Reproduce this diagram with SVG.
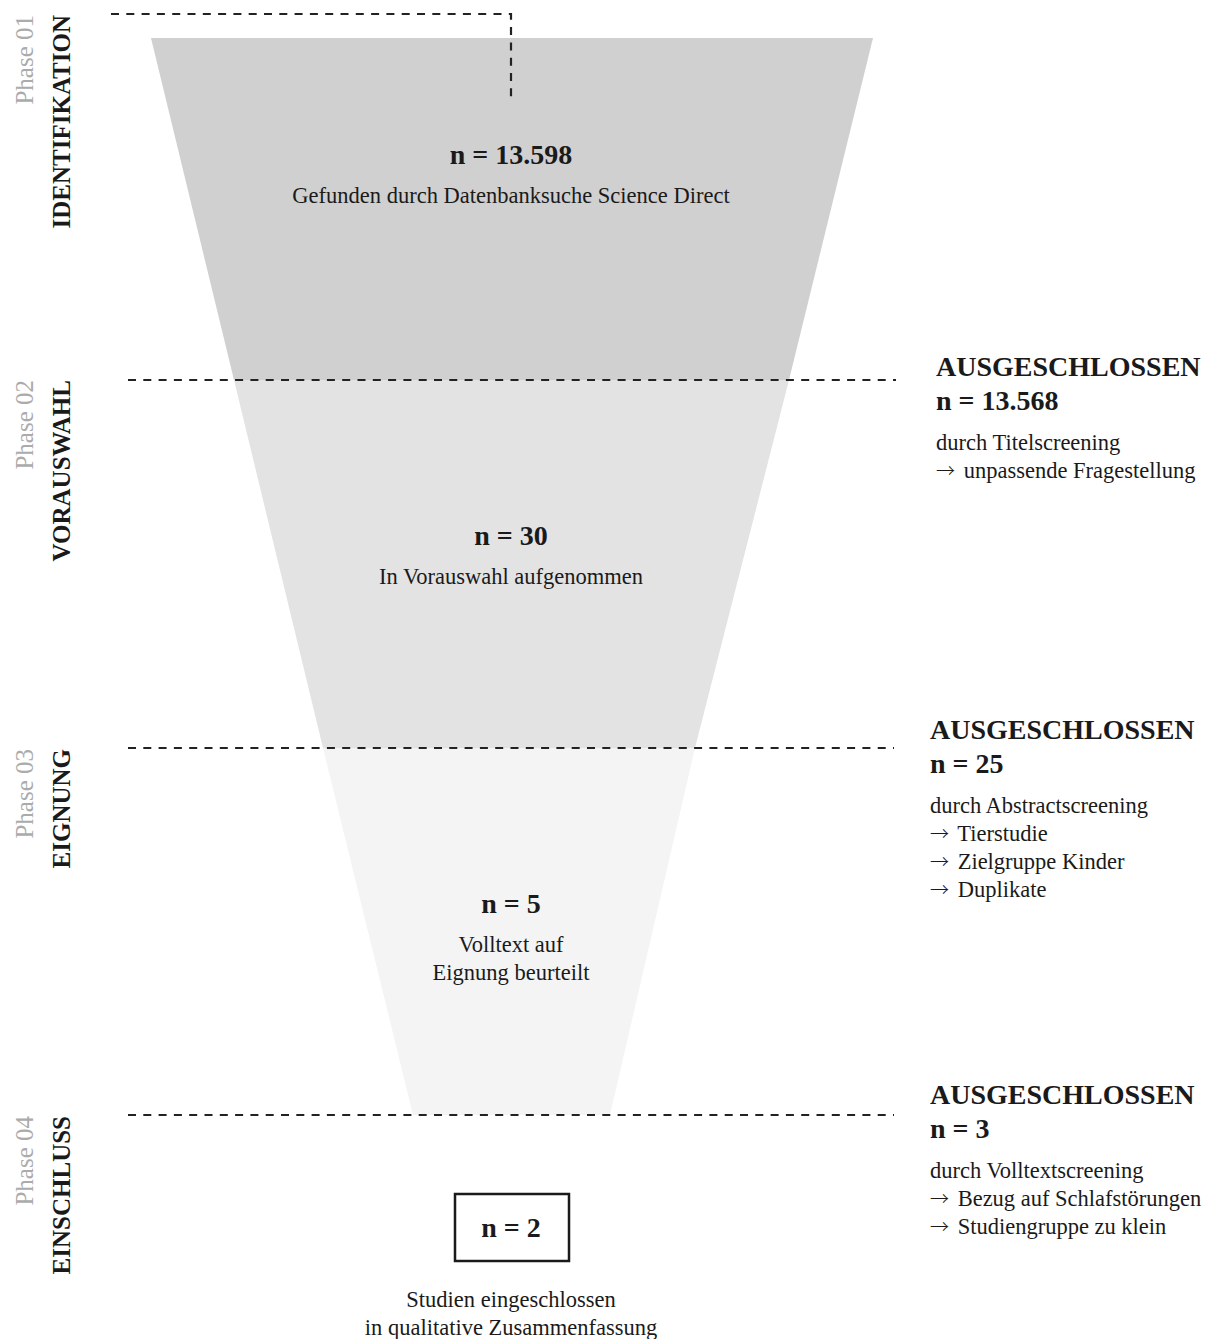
<svg xmlns="http://www.w3.org/2000/svg" width="1220" height="1339" viewBox="0 0 1220 1339">
<style>
.t{font-family:"Liberation Serif","Times New Roman",serif;fill:#1a1a1a}
.b{font-weight:bold;font-size:28px}
.r{font-size:22.5px}
.c{text-anchor:middle}
.a{font-family:"Noto Sans CJK JP","DejaVu Serif",sans-serif;font-weight:300;font-size:19px}
.ph{font-family:"Liberation Serif","Times New Roman",serif;font-size:25px;fill:#ababab;text-anchor:end}
.pl{font-family:"Liberation Serif","Times New Roman",serif;font-size:25px;font-weight:bold;fill:#1a1a1a;text-anchor:end}
.d{fill:none;stroke:#222;stroke-width:2.2;stroke-dasharray:8 7.3}
</style>
<rect width="1220" height="1339" fill="#fff"/>
<g id="funnel">
<polygon points="151,38 873,38 789,380 234,380" fill="#d0d0d0"/>
<polygon points="234,380 789,380 695,748 323,748" fill="#e3e3e3"/>
<polygon points="323,748 695,748 610,1115 413,1115" fill="#f4f4f4"/>
</g>
<g id="connectors">
<polyline class="d" points="111,14 511,14 511,102"/>
<line class="d" x1="128" y1="380" x2="896" y2="380"/>
<line class="d" x1="128" y1="748" x2="894" y2="748"/>
<line class="d" x1="128" y1="1115" x2="894" y2="1115"/>
</g>
<g id="phase1">
<text class="ph" transform="translate(33,15) rotate(-90)">Phase 01</text>
<text class="pl" transform="translate(70,15) rotate(-90)">IDENTIFIKATION</text>
</g>
<g id="phase2">
<text class="ph" transform="translate(33,380) rotate(-90)">Phase 02</text>
<text class="pl" transform="translate(70,380) rotate(-90)">VORAUSWAHL</text>
</g>
<g id="phase3">
<text class="ph" transform="translate(33,749) rotate(-90)">Phase 03</text>
<text class="pl" transform="translate(70,749) rotate(-90)">EIGNUNG</text>
</g>
<g id="phase4">
<text class="ph" transform="translate(33,1116) rotate(-90)">Phase 04</text>
<text class="pl" transform="translate(70,1116) rotate(-90)">EINSCHLUSS</text>
</g>
<g id="node-identifikation">
<text class="t b c" x="511" y="164">n = 13.598</text>
<text class="t r c" x="511" y="203">Gefunden durch Datenbanksuche Science Direct</text>
</g>
<g id="node-vorauswahl">
<text class="t b c" x="511" y="545">n = 30</text>
<text class="t r c" x="511" y="584">In Vorauswahl aufgenommen</text>
</g>
<g id="node-eignung">
<text class="t b c" x="511" y="913">n = 5</text>
<text class="t r c" x="511" y="952">Volltext auf</text>
<text class="t r c" x="511" y="980">Eignung beurteilt</text>
</g>
<g id="node-einschluss">
<rect x="455" y="1194" width="114" height="67" fill="none" stroke="#1a1a1a" stroke-width="2.5"/>
<text class="t b c" x="511" y="1237">n = 2</text>
<text class="t r c" x="511" y="1307">Studien eingeschlossen</text>
<text class="t r c" x="511" y="1335">in qualitative Zusammenfassung</text>
</g>
<g id="excluded-1">
<text class="t b" x="936" y="376">AUSGESCHLOSSEN</text>
<text class="t b" x="936" y="410">n = 13.568</text>
<text class="t r" x="936" y="450">durch Titelscreening</text>
<text class="t r" x="936" y="478"><tspan class="a">→</tspan><tspan dx="3"> unpassende Fragestellung</tspan></text>
</g>
<g id="excluded-2">
<text class="t b" x="930" y="739">AUSGESCHLOSSEN</text>
<text class="t b" x="930" y="773">n = 25</text>
<text class="t r" x="930" y="813">durch Abstractscreening</text>
<text class="t r" x="930" y="841"><tspan class="a">→</tspan><tspan dx="3"> Tierstudie</tspan></text>
<text class="t r" x="930" y="869"><tspan class="a">→</tspan><tspan dx="3"> Zielgruppe Kinder</tspan></text>
<text class="t r" x="930" y="897"><tspan class="a">→</tspan><tspan dx="3"> Duplikate</tspan></text>
</g>
<g id="excluded-3">
<text class="t b" x="930" y="1104">AUSGESCHLOSSEN</text>
<text class="t b" x="930" y="1138">n = 3</text>
<text class="t r" x="930" y="1178">durch Volltextscreening</text>
<text class="t r" x="930" y="1206"><tspan class="a">→</tspan><tspan dx="3"> Bezug auf Schlafstörungen</tspan></text>
<text class="t r" x="930" y="1234"><tspan class="a">→</tspan><tspan dx="3"> Studiengruppe zu klein</tspan></text>
</g>
</svg>
